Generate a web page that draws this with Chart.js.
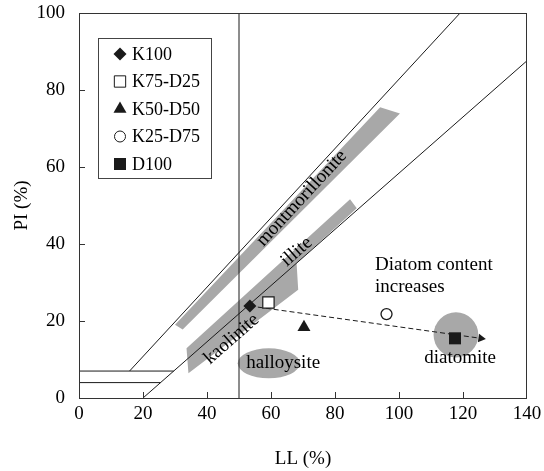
<!DOCTYPE html>
<html>
<head>
<meta charset="utf-8">
<script src="https://cdn.jsdelivr.net/npm/chart.js@4/dist/chart.umd.min.js"></script>
<style>
  html, body { margin: 0; padding: 0; background: #fff; }
</style>
</head>
<body>
<canvas id="plasticityChart" width="544" height="471"></canvas>
<script>
// samples (LL, PI in %)
const sampleNames = ["K100", "K75-D25", "K50-D50", "K25-D75", "D100"];
const sampleLL = [53.4, 59.2, 70.3, 96.1, 117.5];
const samplePI = [23.9, 24.8, 18.4, 21.8, 15.5];

// dashed trend arrow
const trendLL = [53.4, 125.6];
const trendPI = [23.9, 15.5];

// classification lines
const uLine = [[15.8, 7], [119.1, 100]];
const aLine = [[20, 0], [140, 87.6]];
const pi7Line = [[0, 7], [29.6, 7]];
const pi4Line = [[0, 4], [25.5, 4]];
const ll50Line = [[50, 0], [50, 100]];

// mineral zones
const montmorilloniteZone = [[30.0, 19.0], [94.1, 75.5], [100.3, 73.9], [32.4, 17.8]];
const illiteKaoliniteZone = [[33.6, 12.9], [84.7, 51.6], [86.8, 49.3], [68.0, 35.0], [68.5, 28.1], [34.2, 6.4]];
const roundZoneCenters = [[59.3, 9.0], [117.8, 16.4]];
const roundZoneRadii = [[9.7, 3.9], [7.0, 5.85]];

// labels written on the chart
const zoneLabels = ["montmorillonite", "illite", "kaolinite", "halloysite", "diatomite"];
const zoneLabelAt = [[69.6, 51.9], [68.0, 38.0], [47.7, 15.3], [63.8, 9.0], [119.1, 10.4]];
const noteLines = ["Diatom content", "increases"];
const noteAt = [[92.5, 34.5], [92.5, 28.8]];

const xTicks = [0, 20, 40, 60, 80, 100, 120, 140];
const yTicks = [0, 20, 40, 60, 80, 100];

const INK = "#1a1a1a";
const ZONE_GRAY = "#a8a8a8";
const SERIF = '"Liberation Serif", "Times New Roman", serif';

const toPts = arr => arr.map(p => ({ x: p[0], y: p[1] }));

const sampleStyles = [
    { pointStyle: "rectRot", pointRadius: 6.5, backgroundColor: INK, borderWidth: 0 },
    { pointStyle: "rect", pointRadius: 8, backgroundColor: "#fff", borderWidth: 1.2 },
    { pointStyle: "triangle", pointRadius: 7.5, backgroundColor: INK, borderWidth: 0 },
    { pointStyle: "circle", pointRadius: 5.5, backgroundColor: "#fff", borderWidth: 1.3 },
    { pointStyle: "rect", pointRadius: 8.5, backgroundColor: INK, borderWidth: 0 }
];

const datasets = [];

sampleNames.forEach((name, i) => {
    datasets.push(Object.assign({
        label: name,
        data: [{ x: sampleLL[i], y: samplePI[i] }],
        borderColor: INK,
        showLine: false,
        order: 0
    }, sampleStyles[i]));
});

datasets.push({
    label: "trend",
    data: trendLL.map((v, i) => ({ x: v, y: trendPI[i] })),
    showLine: true,
    borderColor: INK,
    borderWidth: 1,
    borderDash: [5, 3],
    pointStyle: "triangle",
    pointRadius: [0, 5],
    pointRotation: 98,
    pointBackgroundColor: INK,
    pointBorderWidth: 0,
    order: 1
});

[uLine, aLine, pi7Line, pi4Line, ll50Line].forEach(line => {
    datasets.push({
        label: "",
        data: toPts(line),
        showLine: true,
        borderColor: INK,
        borderWidth: 1,
        pointRadius: 0,
        order: 2
    });
});

[montmorilloniteZone, illiteKaoliniteZone].forEach(zone => {
    datasets.push({
        label: "",
        data: toPts(zone.concat([zone[0]])),
        showLine: true,
        fill: "shape",
        backgroundColor: ZONE_GRAY,
        borderWidth: 0,
        borderColor: "rgba(0,0,0,0)",
        pointRadius: 0,
        order: 3
    });
});

function lineAngle(x, y, line) {
    const dx = x.getPixelForValue(line[1][0]) - x.getPixelForValue(line[0][0]);
    const dy = y.getPixelForValue(line[1][1]) - y.getPixelForValue(line[0][1]);
    return Math.atan2(dy, dx);
}

const plasticityDecor = {
    id: "plasticityDecor",
    beforeDatasetsDraw(chart) {
        const { ctx, scales: { x, y } } = chart;
        ctx.save();
        ctx.fillStyle = ZONE_GRAY;
        roundZoneCenters.forEach((c, i) => {
            const cx = x.getPixelForValue(c[0]);
            const cy = y.getPixelForValue(c[1]);
            const rx = Math.abs(x.getPixelForValue(c[0] + roundZoneRadii[i][0]) - cx);
            const ry = Math.abs(y.getPixelForValue(c[1] + roundZoneRadii[i][1]) - cy);
            ctx.beginPath();
            ctx.ellipse(cx, cy, rx, ry, 0, 0, Math.PI * 2);
            ctx.fill();
        });
        ctx.restore();
    },
    afterDatasetsDraw(chart) {
        const { ctx, chartArea: area, scales: { x, y } } = chart;
        ctx.save();

        // labels on the chart
        const slopes = [uLine, aLine, aLine, null, null];
        ctx.fillStyle = "#000";
        ctx.font = "19px " + SERIF;
        ctx.textAlign = "center";
        ctx.textBaseline = "middle";
        zoneLabels.forEach((txt, i) => {
            ctx.save();
            ctx.translate(x.getPixelForValue(zoneLabelAt[i][0]), y.getPixelForValue(zoneLabelAt[i][1]));
            if (slopes[i]) ctx.rotate(lineAngle(x, y, slopes[i]));
            ctx.fillText(txt, 0, 0);
            ctx.restore();
        });
        ctx.textAlign = "left";
        noteLines.forEach((txt, i) => {
            ctx.fillText(txt, x.getPixelForValue(noteAt[i][0]), y.getPixelForValue(noteAt[i][1]));
        });

        // frame + inner ticks
        ctx.strokeStyle = "#333";
        ctx.lineWidth = 1;
        ctx.strokeRect(area.left + 0.5, area.top + 0.5, area.width - 1, area.height);
        ctx.beginPath();
        xTicks.slice(1, -1).forEach(v => {
            const px = Math.round(x.getPixelForValue(v)) + 0.5;
            ctx.moveTo(px, area.bottom);
            ctx.lineTo(px, area.bottom - 6);
        });
        yTicks.slice(1, -1).forEach(v => {
            const py = Math.round(y.getPixelForValue(v)) + 0.5;
            ctx.moveTo(area.left, py);
            ctx.lineTo(area.left + 6, py);
        });
        ctx.stroke();

        // legend box
        const bx = area.left + 19, by = area.top + 25, bw = 113, bh = 140;
        ctx.strokeStyle = "#444";
        ctx.strokeRect(bx + 0.5, by + 0.5, bw, bh);
        ctx.font = "18px " + SERIF;
        ctx.textAlign = "left";
        ctx.fillStyle = "#000";
        sampleNames.forEach((name, i) => {
            const meta = chart.getDatasetMeta(i);
            const el = meta.data[0];
            const rowY = by + 16 + i * 27.5;
            const o = el.options;
            ctx.fillStyle = o.backgroundColor;
            ctx.strokeStyle = o.borderColor;
            Chart.helpers.drawPoint(ctx, {
                pointStyle: o.pointStyle,
                radius: o.radius,
                rotation: o.rotation,
                borderWidth: o.borderWidth
            }, bx + 22, rowY);
            ctx.fillStyle = "#000";
            ctx.fillText(name, bx + 34, rowY + 1);
        });
        ctx.restore();
    }
};

const canvas = document.getElementById("plasticityChart");
const chart = new Chart(canvas.getContext("2d"), {
    type: "scatter",
    data: { datasets: datasets },
    options: {
        responsive: false,
        animation: false,
        layout: { padding: { top: 13, right: 17, left: 0, bottom: 0 } },
        plugins: {
            legend: { display: false },
            tooltip: { enabled: false }
        },
        scales: {
            x: {
                type: "linear",
                min: 0,
                max: 140,
                afterFit: s => { s.height = 73; s.paddingLeft = 0; s.paddingRight = 0; },
                afterBuildTicks: s => { s.ticks = xTicks.map(v => ({ value: v })); },
                grid: { display: false, drawTicks: false },
                border: { display: false },
                ticks: { padding: 5, color: "#000", font: { family: SERIF, size: 19 } },
                title: {
                    display: true,
                    text: "LL (%)",
                    color: "#000",
                    padding: { top: 0, bottom: 1 },
                    font: { family: SERIF, size: 19 }
                }
            },
            y: {
                type: "linear",
                min: 0,
                max: 100,
                afterFit: s => { s.width = 79; s.paddingTop = 0; s.paddingBottom = 0; },
                afterBuildTicks: s => { s.ticks = yTicks.map(v => ({ value: v })); },
                grid: { display: false, drawTicks: false },
                border: { display: false },
                ticks: { padding: 14, color: "#000", font: { family: SERIF, size: 19 } },
                title: {
                    display: true,
                    text: "PI (%)",
                    color: "#000",
                    padding: { top: 11, bottom: 0 },
                    font: { family: SERIF, size: 19 }
                }
            }
        }
    },
    plugins: [plasticityDecor]
});
</script>
</body>
</html>
